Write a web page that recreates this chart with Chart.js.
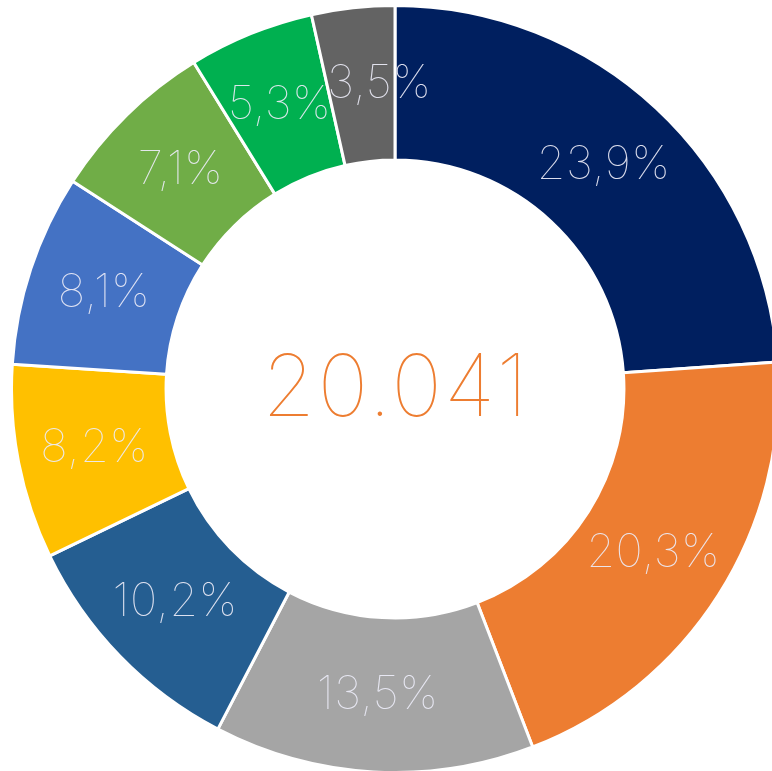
<!DOCTYPE html>
<html><head><meta charset="utf-8">
<script src="https://cdn.jsdelivr.net/npm/chart.js@4"></script>
<style>
html,body{margin:0;padding:0;background:#fff;overflow:hidden;width:772px;height:771px}
#wrap{position:absolute;left:10px;top:4px;width:770px;height:770px}
</style></head><body>
<div id="wrap"><canvas id="c"></canvas></div>
<script>
const categories = ["A","B","C","D","E","F","G","H","I"];
const values = [23.9, 20.3, 13.5, 10.2, 8.2, 8.1, 7.1, 5.3, 3.5];
const labelsText = ["23,9%","20,3%","13,5%","10,2%","8,2%","8,1%","7,1%","5,3%","3,5%"];
const colors = ["#001F5F","#ED7D31","#A5A5A5","#255E91","#FFC000","#4472C4","#70AD47","#00B050","#636363"];
const centerText = "20.041";

const FONT = "Inter, 'Open Sans', Lato, sans-serif";

const labelPlugin = {
  id: 'sliceLabels',
  afterDatasetsDraw(chart, args, opts) {
    const ctx = chart.ctx;
    const meta = chart.getDatasetMeta(0);
    const shifts = opts.shiftX || {};
    ctx.save();
    ctx.textAlign = 'center';
    ctx.textBaseline = 'middle';
    ctx.font = "100 46px " + FONT;
    try { ctx.letterSpacing = "0.5px"; } catch(e) {}
    ctx.fillStyle = "rgba(236,236,248,0.93)";
    meta.data.forEach((arc, i) => {
      const p = arc.tooltipPosition();
      ctx.fillText(labelsText[i], p.x + (shifts[i] || 0), p.y);
    });
    const a = meta.data[0];
    ctx.font = "100 86px " + FONT;
    try { ctx.letterSpacing = "2px"; } catch(e) {}
    ctx.fillStyle = "#ED7D31";
    ctx.fillText(centerText, a.x + 1, a.y + 1);
    ctx.restore();
  }
};

new Chart(document.getElementById('c'), {
  type: 'doughnut',
  data: {
    labels: categories,
    datasets: [{
      data: values,
      backgroundColor: colors,
      borderColor: '#ffffff',
      borderWidth: 3,
      hoverOffset: 0
    }]
  },
  options: {
    responsive: true,
    maintainAspectRatio: false,
    animation: false,
    cutout: '59.7%',
    layout: { padding: 0 },
    plugins: {
      legend: { display: false },
      tooltip: { enabled: false },
      sliceLabels: { shiftX: { 8: 18 } }
    }
  },
  plugins: [labelPlugin]
});
</script>
</body></html>
